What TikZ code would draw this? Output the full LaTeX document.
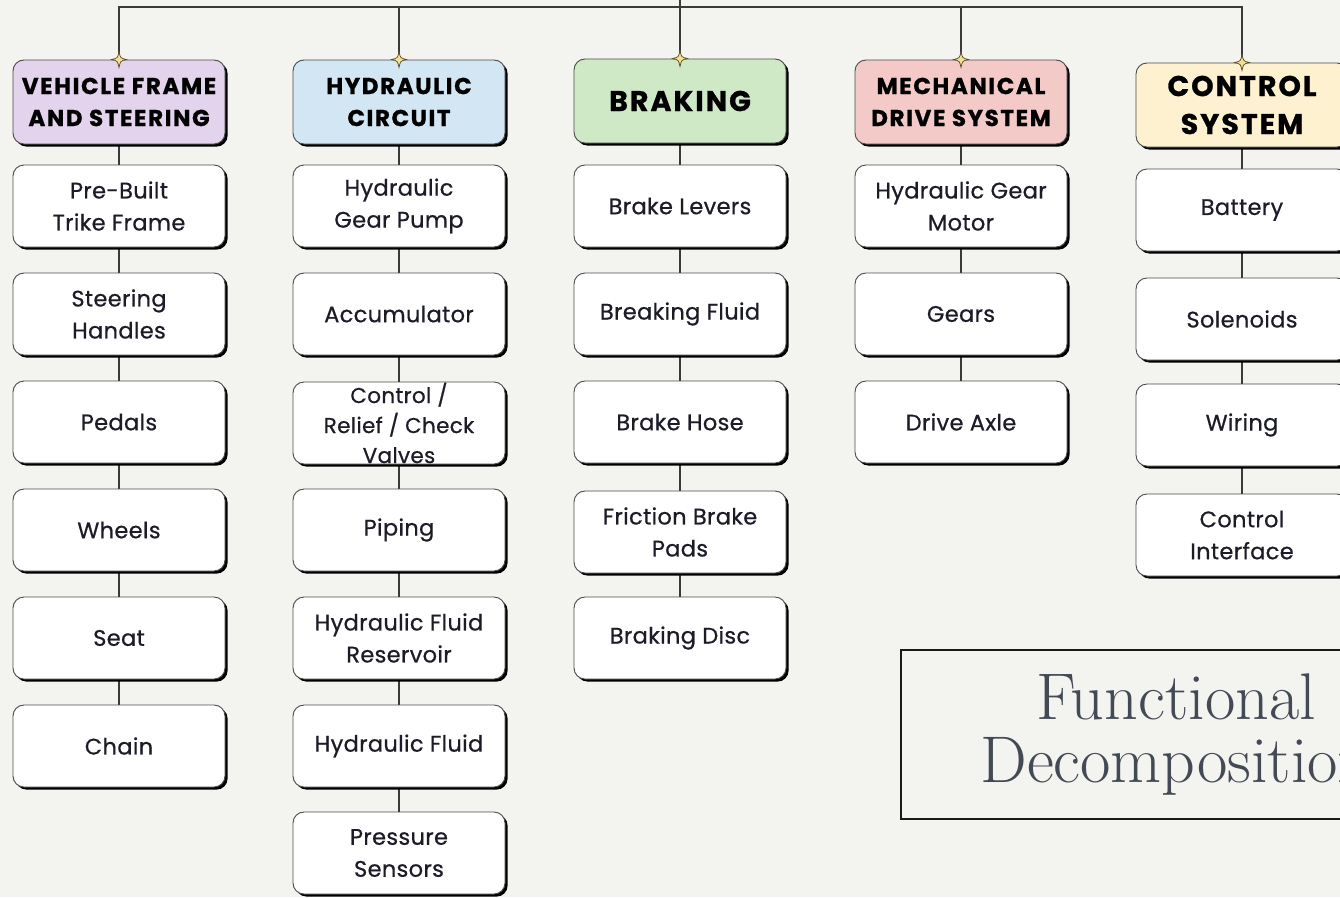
\documentclass[tikz,border=0pt]{standalone}
\usepackage{fontspec}
\setmainfont{Poppins}
\newfontfamily\bodyfont[LetterSpace=1.5, UprightFeatures={FakeBold=0.6}]{Poppins}
\newfontfamily\headfont[LetterSpace=7, BoldFeatures={FakeBold=0.9}]{Poppins}
\newfontfamily\titlefont{Latin Modern Roman}
\usetikzlibrary{shadows,backgrounds}

\definecolor{bgc}{HTML}{F3F3EF}
\definecolor{purp}{HTML}{E3D3EC}
\definecolor{blu}{HTML}{D3E6F3}
\definecolor{grn}{HTML}{CFE8C5}
\definecolor{pnk}{HTML}{F4CAC9}
\definecolor{yel}{HTML}{FDF1CF}
\definecolor{edgec}{HTML}{4A4A4A}
\definecolor{linec}{HTML}{3A3A3A}
\definecolor{textc}{HTML}{1C1C28}
\definecolor{titlec}{HTML}{434A55}
\definecolor{sparkfill}{HTML}{F3DF96}
\definecolor{sparkedge}{HTML}{5A4A22}

\tikzset{
  conn/.style={draw=linec, line width=1.4pt},
  card/.style={rounded corners=11pt, draw=edgec, line width=0.9pt,
    minimum width=212pt, minimum height=82pt, align=center, inner sep=0pt,
    general shadow={fill=black, shadow xshift=2.6pt, shadow yshift=-2.6pt}},
  item/.style={card, fill=white, text=textc, font=\bodyfont\fontsize{22.5}{32}\selectfont},
  head/.style={card, minimum height=84pt, text=black,
    font=\headfont\bfseries\fontsize{23}{32}\selectfont},
  bighead/.style={head, font=\headfont\bfseries\fontsize{28.5}{38}\selectfont},
  sparkle/.pic={
    \filldraw[fill=sparkfill, draw=sparkedge, line width=0.7pt]
      (0,-8) .. controls (1.4,-1.4) .. (7.5,0)
             .. controls (1.4,1.4) .. (0,8)
             .. controls (-1.4,1.4) .. (-7.5,0)
             .. controls (-1.4,-1.4) .. (0,-8) -- cycle;
  },
}

\begin{document}
\begin{tikzpicture}[x=1pt,y=-1pt]
\useasboundingbox (0,0) rectangle (1340,897);
\clip (0,0) rectangle (1340,897);

% column headers
\node[head, fill=purp] (h1) at (119,102) {VEHICLE FRAME\\AND STEERING};
\node[head, fill=blu] (h2) at (399,102) {HYDRAULIC\\CIRCUIT};
\node[bighead, fill=grn] (h3) at (680,101) {BRAKING};
\node[head, fill=pnk] (h4) at (961,102) {MECHANICAL\\DRIVE SYSTEM};
\node[bighead, fill=yel] (h5) at (1242,105) {CONTROL\\SYSTEM};

% vehicle frame and steering
\node[item] (a1) at (119,206) {Pre-Built\\Trike Frame};
\node[item] (a2) at (119,314) {Steering\\Handles};
\node[item] (a3) at (119,422) {Pedals};
\node[item] (a4) at (119,530) {Wheels};
\node[item] (a5) at (119,638) {Seat};
\node[item] (a6) at (119,746) {Chain};

% hydraulic circuit
\node[item] (b1) at (399,206) {Hydraulic\\Gear Pump};
\node[item] (b2) at (399,314) {Accumulator};
\node[item, font=\bodyfont\fontsize{21.5}{30}\selectfont] (b3) at (399,423) {Control /\\Relief / Check\\Valves};
\node[item] (b4) at (399,530) {Piping};
\node[item] (b5) at (399,638) {Hydraulic Fluid\\Reservoir};
\node[item] (b6) at (399,746) {Hydraulic Fluid};
\node[item] (b7) at (399,853) {Pressure\\Sensors};

% braking
\node[item] (c1) at (680,206) {Brake Levers};
\node[item] (c2) at (680,314) {Breaking Fluid};
\node[item] (c3) at (680,422) {Brake Hose};
\node[item] (c4) at (680,532) {Friction Brake\\Pads};
\node[item] (c5) at (680,638) {Braking Disc};

% mechanical drive system
\node[item] (d1) at (961,206) {Hydraulic Gear\\Motor};
\node[item] (d2) at (961,314) {Gears};
\node[item] (d3) at (961,422) {Drive Axle};

% control system
\node[item] (e1) at (1242,210) {Battery};
\node[item] (e2) at (1242,319) {Solenoids};
\node[item] (e3) at (1242,425) {Wiring};
\node[item] (e4) at (1242,535) {Control\\Interface};

% title
\node[draw=black!90, line width=1.5pt, minimum width=550pt, minimum height=169pt,
      align=center, text=titlec, font=\titlefont\fontsize{66}{63}\selectfont]
      (title) at (1176,734.5) {Functional\\Decomposition};

\coordinate (top) at (680,0);
\coordinate (bus) at (0,7);

\begin{scope}[on background layer]
  \fill[bgc] (0,0) rectangle (1340,897);
  \draw[conn] (h1.north) -- (h1.north |- bus) -- (h5.north |- bus) -- (h5.north);
  \draw[conn] (h2.north) -- (h2.north |- bus);
  \draw[conn] (top) -- (h3.north);
  \draw[conn] (h4.north) -- (h4.north |- bus);
  \draw[conn] (h1) -- (a1) -- (a2) -- (a3) -- (a4) -- (a5) -- (a6);
  \draw[conn] (h2) -- (b1) -- (b2) -- (b3) -- (b4) -- (b5) -- (b6) -- (b7);
  \draw[conn] (h3) -- (c1) -- (c2) -- (c3) -- (c4) -- (c5);
  \draw[conn] (h4) -- (d1) -- (d2) -- (d3);
  \draw[conn] (h5) -- (e1) -- (e2) -- (e3) -- (e4);
\end{scope}

% sparkles on the header joints
\foreach \h in {h1,h2,h3,h4,h5} \pic at (\h.north) {sparkle};
\end{tikzpicture}
\end{document}
